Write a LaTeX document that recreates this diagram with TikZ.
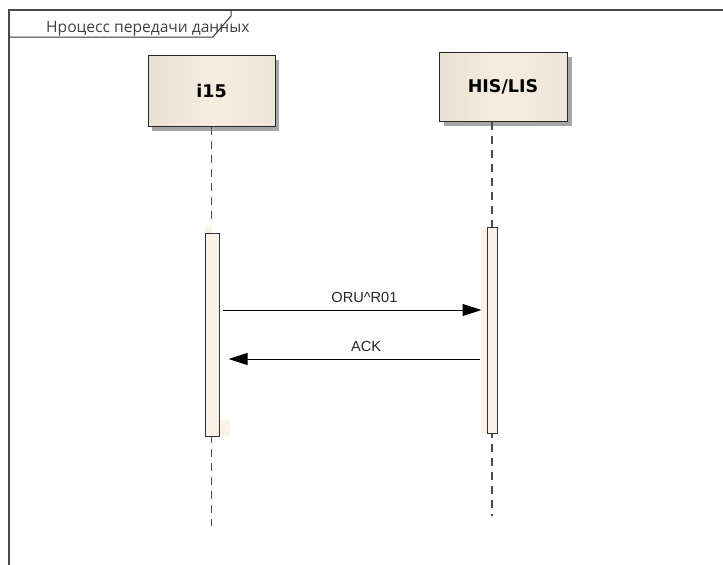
\documentclass[tikz,border=0pt]{standalone}
\usepackage{fontspec}
\setmainfont{Liberation Sans}
\newfontfamily\titlefont{Open Sans}
\newfontfamily\boxfont{DejaVu Sans}
\usetikzlibrary{arrows.meta,calc}
\definecolor{frameline}{HTML}{4A4A4A}
\definecolor{boxleft}{HTML}{E9DFD2}
\definecolor{boxmid}{HTML}{F6EDE0}
\definecolor{boxright}{HTML}{EEE4D7}
\definecolor{actfill}{HTML}{FBF1E4}
\definecolor{halo}{HTML}{FCF2E6}
\definecolor{shadowgray}{HTML}{A6A6A6}
\definecolor{lifegray}{HTML}{4A4A4A}
\begin{document}
\begin{tikzpicture}[x=1pt,y=-1pt,
  frame/.style={draw=frameline, line width=2pt},
  tab/.style={draw=black!80, line width=1pt},
  lifebox/.style={draw=black!85, line width=1pt, left color=boxleft, right color=boxright, middle color=boxmid,
    font=\boxfont\bfseries\fontsize{17.5}{19}\selectfont, inner sep=0pt},
  lifeline/.style={draw=lifegray, line width=1.6pt, dash pattern=on 8pt off 6pt},
  actbox/.style={draw=black!80, line width=1pt, fill=actfill, inner sep=0pt},
  msg/.style={draw=black, line width=1pt, -{Triangle[length=19pt,width=12pt]}},
  msglabel/.style={font=\fontsize{14.6}{16}\selectfont, text=black!85, anchor=base, inner sep=0pt, yshift=8pt}
]
\useasboundingbox (0,0) rectangle (723,565);
\fill[white] (0,0) rectangle (723,565);

% frame
\draw[frame] (723,9.5) -- (9,9.5) -- (9,565);
\draw[tab] (9,37) -- (213,37) -- (231,16) -- (231,9.5);
\node[font=\titlefont\fontsize{15.6}{17}\selectfont, text=black!75, anchor=base west, inner sep=0pt] (title) at (46,32) {Нроцесс передачи данных};

% lifeline heads
\fill[shadowgray] (152,60) rectangle (279,131);
\fill[shadowgray] (444,57) rectangle (572,126);
\node[lifebox, minimum width=127pt, minimum height=71pt] (i15) at (211.5,90.5) {i15};
\node[lifebox, minimum width=128pt, minimum height=69pt] (his) at (503,86.5) {HIS/LIS};

% lifeline ends
\coordinate (i15end) at (211.5,526);
\coordinate (hisend) at (492,516);
\draw[lifeline] (i15.south) -- (i15end);
\draw[lifeline] (his.south -| hisend) -- (hisend);

% halos
\fill[halo] (205,225) rectangle (212,233);
\fill[halo] (219,420) rectangle (230,436);
\fill[halo] (481,227) rectangle (487,433);

% activations
\node[actbox, minimum width=14pt, minimum height=203pt] (a1) at (212,334.5) {};
\node[actbox, minimum width=10pt, minimum height=206pt] (a2) at (492,330) {};

% messages
\coordinate (m1) at (0,310);
\coordinate (m2) at (0,359);
\draw[msg] ($(a1.east |- m1)+(3,0)$) -- node[msglabel, pos=0.548] (l1) {ORU\^{}R01} ($(a2.west |- m1)+(-5,0)$);
\draw[msg] ($(a2.west |- m2)+(-7,0)$) -- node[msglabel, pos=0.452] (l2) {ACK} ($(a1.east |- m2)+(9,0)$);
\end{tikzpicture}
\end{document}
